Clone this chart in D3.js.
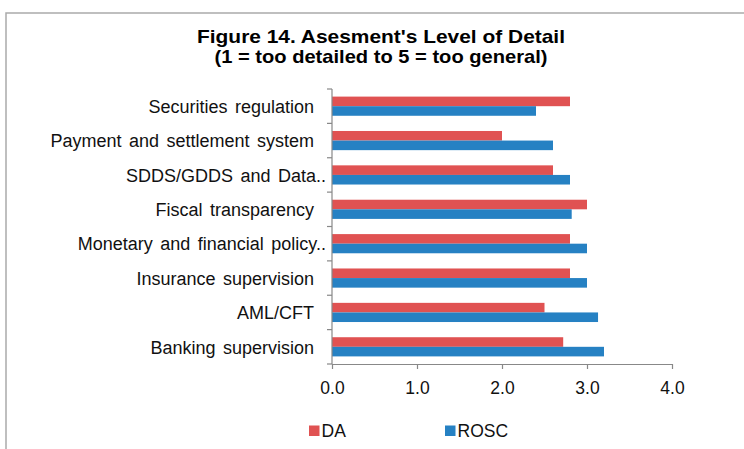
<!DOCTYPE html>
<html><head><meta charset="utf-8">
<script src="https://cdn.jsdelivr.net/npm/d3@7"></script>
<style>body{margin:0;background:#fff}svg{display:block}text{font-family:"Liberation Sans",Arial,sans-serif}</style>
</head><body>
<svg id="c" width="744" height="449"></svg>
<script>
const categories = ["Securities regulation","Payment and settlement system","SDDS/GDDS and Data..","Fiscal transparency","Monetary and financial policy..","Insurance supervision","AML/CFT","Banking supervision"];
const series = ["DA","ROSC"];
const daValues = [2.8,2.0,2.6,3.0,2.8,2.8,2.5,2.72];
const roscValues = [2.4,2.6,2.8,2.82,3.0,3.0,3.13,3.2];
const xTicks = [0,1,2,3,4];
const colors = {DA:"#E05252", ROSC:"#2681C3"};

const svg = d3.select("#c");
svg.append("rect").attr("x",6).attr("y",13).attr("width",760).attr("height",460)
  .attr("fill","none").attr("stroke","#aaa").attr("stroke-width",1.5);

const titleLines = ["Figure 14. Asesment's Level of Detail","(1 = too detailed to 5 = too general)"];
const titleW = [368,333];
titleLines.forEach((t,i)=>{
  svg.append("text").attr("x",381).attr("y",43+i*20).attr("text-anchor","middle")
    .attr("font-weight","bold").attr("font-size",19).attr("fill","#000")
    .attr("textLength",titleW[i]).attr("lengthAdjust","spacingAndGlyphs").text(t);
});

const x = d3.scaleLinear().domain([0,4]).range([332,672]);
const y = d3.scaleBand().domain(categories).range([89,364]).padding(0);
const ys = d3.scaleBand().domain(series).range([7.6, y.bandwidth()-7.6]).padding(0);

const rows = categories.map((c,i)=>({cat:c, vals:[{s:"DA",v:daValues[i]},{s:"ROSC",v:roscValues[i]}]}));
const g = svg.append("g");
g.selectAll("g.row").data(rows).join("g").attr("class","row")
  .attr("transform",d=>`translate(0,${y(d.cat)})`)
  .selectAll("rect").data(d=>d.vals).join("rect")
  .attr("x",x(0)).attr("y",d=>ys(d.s)).attr("height",ys.bandwidth())
  .attr("width",d=>x(d.v)-x(0)).attr("fill",d=>colors[d.s]);

// y axis
const ya = svg.append("g");
ya.append("line").attr("x1",332).attr("x2",332).attr("y1",89).attr("y2",364).attr("stroke","#888").attr("stroke-width",1.2);
const bounds = categories.map(c=>y(c)).concat([364]);
ya.selectAll("line.t").data(bounds).join("line").attr("class","t")
  .attr("x1",327).attr("x2",332).attr("y1",d=>d).attr("y2",d=>d).attr("stroke","#888").attr("stroke-width",1.2);
ya.selectAll("text").data(categories).join("text")
  .attr("x",d=>d.endsWith("..")?326:314).attr("y",d=>y(d)+y.bandwidth()/2+6.8)
  .attr("text-anchor","end").attr("font-size",18).attr("word-spacing",2.5).attr("fill","#111").text(d=>d);

// x axis
const xa = svg.append("g").attr("transform","translate(0,364)");
xa.call(d3.axisBottom(x).tickValues(xTicks).tickFormat(d3.format(".1f")).tickSize(5).tickSizeOuter(0));
xa.select(".domain").attr("stroke","#888").attr("stroke-width",1.2);
xa.selectAll(".tick line").attr("stroke","#888").attr("stroke-width",1.2);
xa.selectAll(".tick text").attr("font-size",17.5).attr("fill","#111").attr("dy",0).attr("y",29.5)
  .attr("font-family","Liberation Sans, Arial, sans-serif");

// legend
const legendX = [309,445];
const lg = svg.append("g");
series.forEach((s,i)=>{
  lg.append("rect").attr("x",legendX[i]).attr("y",425.5).attr("width",10.5).attr("height",10.5).attr("fill",colors[s]);
  lg.append("text").attr("x",legendX[i]+12.5).attr("y",437).attr("font-size",17.5).attr("fill","#111").text(s);
});
</script>
</body></html>
